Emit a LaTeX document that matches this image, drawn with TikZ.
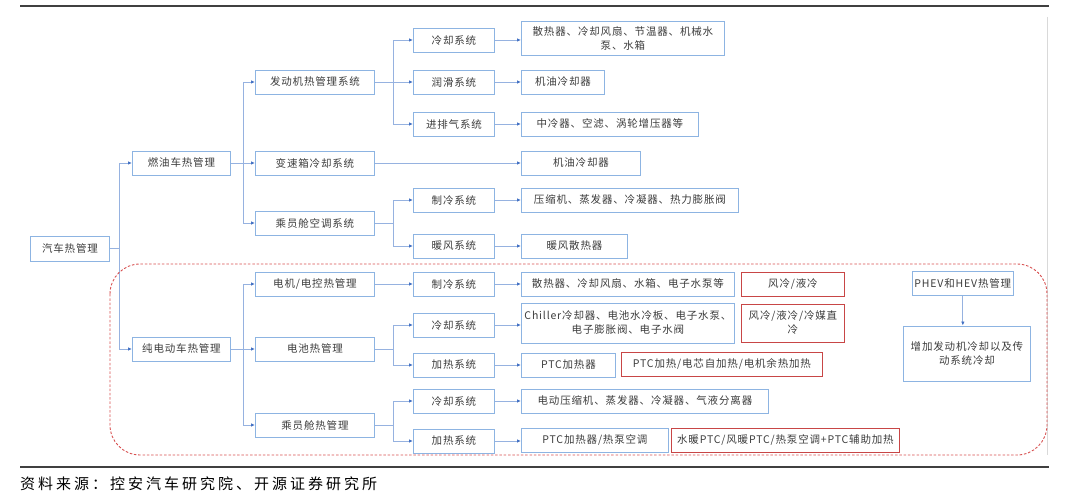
\documentclass[tikz,border=0pt]{standalone}
\usepackage{fontspec}
\setmainfont{Noto Sans CJK SC}
\newfontfamily\boxfont[LetterSpace=8]{Noto Sans CJK SC}
\newfontfamily\capfont[LetterSpace=20]{Noto Sans CJK SC}
\usepackage{tikz}
\usetikzlibrary{arrows.meta,positioning,calc}
\definecolor{boxblue}{RGB}{141,180,226}
\definecolor{lineblue}{RGB}{150,178,224}
\definecolor{tipblue}{RGB}{68,114,196}
\definecolor{boxred}{RGB}{200,70,70}
\definecolor{dashred}{RGB}{215,80,80}
\definecolor{txtgray}{RGB}{60,60,60}
\tikzset{
  box/.style={draw=boxblue, line width=0.9pt, minimum height=24, inner sep=2pt,
    anchor=west, align=center, text=txtgray, font=\boxfont\fontsize{10.5}{14}\selectfont},
  redbox/.style={box, draw=boxred},
  conn/.style={draw=lineblue, line width=0.9pt, -{Latex[length=4pt,width=3.5pt,color=tipblue]}},
  trunk/.style={draw=lineblue, line width=0.9pt}
}

\begin{document}
\begin{tikzpicture}[x=1pt,y=-1pt]
  \useasboundingbox (0,0) rectangle (1080,502);
  \draw[line width=1.3pt, black!75] (20,6) -- (1049,6);
  \draw[line width=0.5pt, black!15] (1047,17) -- (1047,455);

  % root and first level
  \node[box, minimum width=79, minimum height=25] (car) at (30,248.5) {汽车热管理};
  \node[box, minimum width=98] (fuel) at (132,163) {燃油车热管理};
  \node[box, minimum width=98] (ev) at (132,349) {纯电动车热管理};

  % fuel car
  \node[box, minimum width=119] (engine) at (255,82) {发动机热管理系统};
  \node[box, minimum width=119] (gearbox) at (255,163) {变速箱冷却系统};
  \node[box, minimum width=119] (cabinac) at (255,223) {乘员舱空调系统};
  \node[box, minimum width=81] (cool1) at (413,40) {冷却系统};
  \node[box, minimum width=81] (lube) at (413,82) {润滑系统};
  \node[box, minimum width=81] (intake) at (413,124) {进排气系统};
  \node[box, minimum width=81] (refr1) at (413,200) {制冷系统};
  \node[box, minimum width=81] (heat1) at (413,246) {暖风系统};
  \node[box, text width=199, minimum height=34] (radiator) at (521,38.5) {散热器、冷却风扇、节温器、机械水\\泵、水箱};
  \node[box, minimum width=83] (oilcool) at (521,82) {机油冷却器};
  \node[box, minimum width=177] (intercool) at (521,124) {中冷器、空滤、涡轮增压器等};
  \node[box, minimum width=119] (oilcool2) at (521,163) {机油冷却器};
  \node[box, minimum width=217] (compr) at (521,200) {压缩机、蒸发器、冷凝器、热力膨胀阀};
  \node[box, minimum width=106] (heatcore) at (521,246) {暖风散热器};

  % electric car
  \node[box, minimum width=119] (motor) at (255,284) {电机/电控热管理};
  \node[box, minimum width=119] (battery) at (255,349) {电池热管理};
  \node[box, minimum width=119] (cabin) at (255,425) {乘员舱热管理};
  \node[box, minimum width=81] (refr2) at (413,284) {制冷系统};
  \node[box, minimum width=81] (cool2) at (413,325) {冷却系统};
  \node[box, minimum width=81] (heat2) at (413,365) {加热系统};
  \node[box, minimum width=81] (cool3) at (413,401) {冷却系统};
  \node[box, minimum width=81] (heat3) at (413,441) {加热系统};
  \node[box, minimum width=213] (evrad) at (521,284) {散热器、冷却风扇、水箱、电子水泵等};
  \node[box, text width=209, minimum height=40] (chiller) at (521,323) {Chiller冷却器、电池水冷板、电子水泵、\\电子膨胀阀、电子水阀};
  \node[box, minimum width=94] (ptc) at (521,365) {PTC加热器};
  \node[box, minimum width=247] (ecomp) at (521,401) {电动压缩机、蒸发器、冷凝器、气液分离器};
  \node[box, minimum width=147] (ptchp) at (521,440) {PTC加热器/热泵空调};
  \node[redbox, minimum width=103] (r1) at (741,284) {风冷/液冷};
  \node[redbox, text width=99, minimum height=38] (r2) at (741,323) {风冷/液冷/冷媒直\\冷};
  \node[redbox, minimum width=201] (r3) at (621,364) {PTC加热/电芯自加热/电机余热加热};
  \node[redbox, minimum width=228] (r4) at (671,440) {水暖PTC/风暖PTC/热泵空调+PTC辅助加热};

  % hybrids
  \node[box, minimum width=98] (phev) at (912,283.5) {PHEV和HEV热管理};
  \node[box, text width=123, minimum height=55] (hybadd) at (903,353.5) {增加发动机冷却以及传\\动系统冷却};

  % connectors
  \draw[trunk] (car.east) -- ++(10,0) coordinate (t0);
  \draw[conn] (t0) |- (fuel.west);
  \draw[conn] (t0) |- (ev.west);

  \draw[trunk] (fuel.east) -- ++(13,0) coordinate (t1);
  \draw[conn] (t1) |- (engine.west);
  \draw[conn] (t1) |- (gearbox.west);
  \draw[conn] (t1) |- (cabinac.west);

  \draw[trunk] (engine.east) -- ++(19,0) coordinate (t2);
  \draw[conn] (t2) |- (cool1.west);
  \draw[conn] (t2) |- (lube.west);
  \draw[conn] (t2) |- (intake.west);
  \draw[conn] (gearbox.east) -- (oilcool2.west);
  \draw[trunk] (cabinac.east) -- ++(19,0) coordinate (t3);
  \draw[conn] (t3) |- (refr1.west);
  \draw[conn] (t3) |- (heat1.west);

  \draw[conn] (cool1.east) -- (cool1.east -| radiator.west);
  \draw[conn] (lube.east) -- (oilcool.west);
  \draw[conn] (intake.east) -- (intercool.west);
  \draw[conn] (refr1.east) -- (compr.west);
  \draw[conn] (heat1.east) -- (heatcore.west);

  \draw[trunk] (ev.east) -- ++(13,0) coordinate (t4);
  \draw[conn] (t4) |- (motor.west);
  \draw[conn] (t4) |- (battery.west);
  \draw[conn] (t4) |- (cabin.west);

  \draw[conn] (motor.east) -- (refr2.west);
  \draw[trunk] (battery.east) -- ++(19,0) coordinate (t5);
  \draw[conn] (t5) |- (cool2.west);
  \draw[conn] (t5) |- (heat2.west);
  \draw[trunk] (cabin.east) -- ++(19,0) coordinate (t6);
  \draw[conn] (t6) |- (cool3.west);
  \draw[conn] (t6) |- (heat3.west);

  \draw[conn] (refr2.east) -- (evrad.west);
  \draw[conn] (cool2.east) -- (cool2.east -| chiller.west);
  \draw[conn] (heat2.east) -- (ptc.west);
  \draw[conn] (cool3.east) -- (ecomp.west);
  \draw[conn] (heat3.east) -- (heat3.east -| ptchp.west);

  \draw[conn] (phev.south) -- (phev.south |- hybadd.north);

  % dashed frame round the electric part
  \draw[dashred, line width=0.9pt, dash pattern=on 2.5pt off 1.8pt, rounded corners=30]
    (110,264) rectangle (1047,455);

  \draw[line width=1.5pt, black!75] (20,467) -- (1049,467);
  \node[anchor=west, inner sep=0, font=\capfont\fontsize{15}{18}\selectfont] (source) at (20,484)
    {资料来源：控安汽车研究院、开源证券研究所};
\end{tikzpicture}
\end{document}
